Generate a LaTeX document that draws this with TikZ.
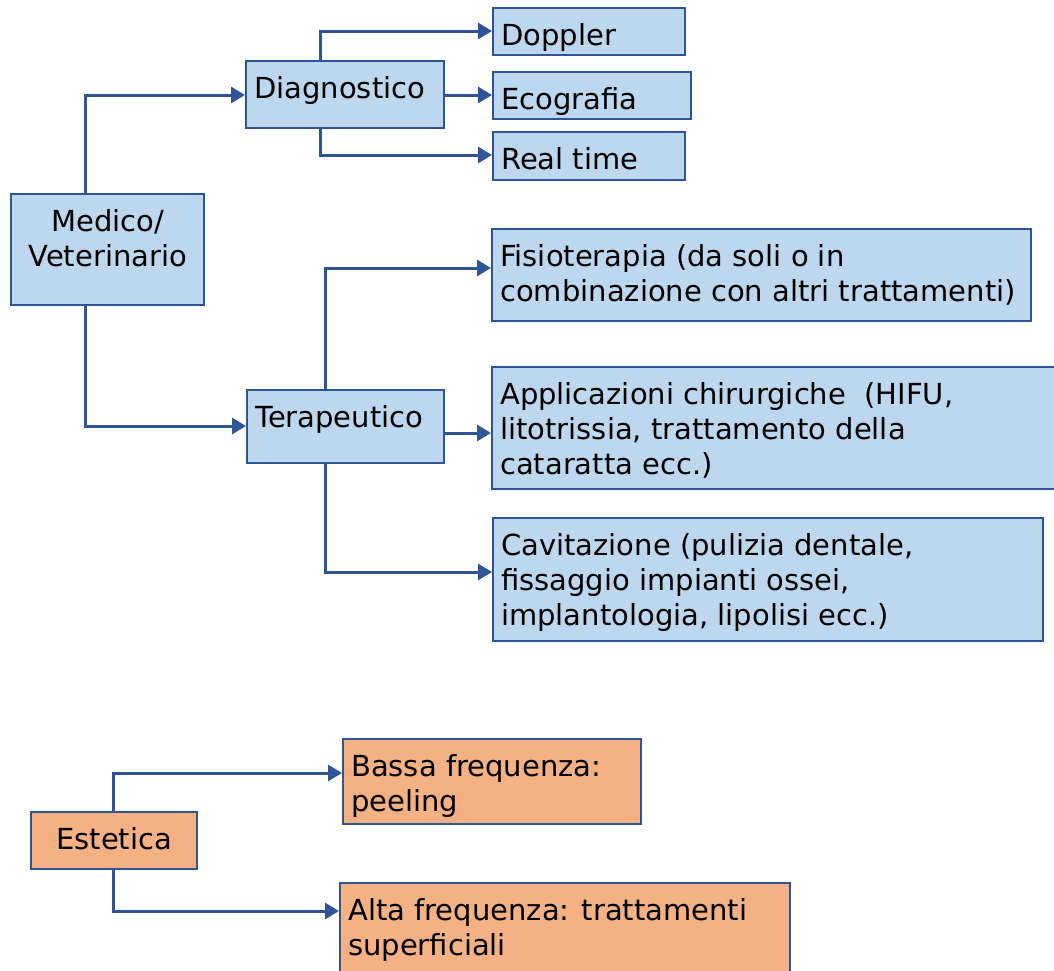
\documentclass[tikz,border=0pt]{standalone}
\usepackage{fontspec}
\setmainfont{DejaVu Sans}
\usetikzlibrary{arrows.meta,calc}
\definecolor{blu}{HTML}{BDD7EE}
\definecolor{ora}{HTML}{F4B183}
\definecolor{bd}{HTML}{2F5597}
\newcommand\bt[3]{\parbox[c][#2pt][t]{#1pt}{\leftskip=8pt\rightskip=0pt plus 1fil\rule{0pt}{37pt}\ignorespaces#3}}
\begin{document}
\begin{tikzpicture}[x=1pt,y=-1pt,
  box/.style={draw=bd, line width=2.4pt, fill=blu, inner sep=0pt, anchor=north west,
    font=\fontsize{29}{35}\selectfont},
  obox/.style={box, fill=ora},
  arr/.style={draw=bd, line width=3pt, -{Triangle[length=14pt,width=16pt]}}]
\useasboundingbox[fill=white] (0,0) rectangle (1054,970);

\node[box] (med) at (10,193) {\bt{193}{111}{\centering Medico/\\Veterinario}};
\node[box] (diag) at (245,60) {\bt{198}{67}{Diagnostico}};
\node[box] (dop) at (492,7) {\bt{192}{47}{Doppler}};
\node[box] (eco) at (492,71) {\bt{198}{47}{Ecografia}};
\node[box] (rt) at (492,131) {\bt{192}{48}{Real time}};
\node[box] (ter) at (246,389) {\bt{197}{73}{Terapeutico}};
\node[box] (fis) at (491,228) {\bt{539}{92}{Fisioterapia (da soli o in\\combinazione con altri trattamenti)}};
\node[box] (app) at (491,366) {\bt{580}{122}{Applicazioni chirurgiche\ \ (HIFU,\\litotrissia, trattamento della\\cataratta ecc.)}};
\node[box] (cav) at (492,517) {\bt{550}{123}{Cavitazione (pulizia dentale,\\fissaggio impianti ossei,\\implantologia, lipolisi ecc.)}};
\node[obox] (est) at (30,811) {\bt{166}{57}{\centering Estetica}};
\node[obox] (bas) at (342,738) {\bt{298}{85}{Bassa frequenza:\\peeling}};
\node[obox] (alt) at (339,882) {\bt{450}{100}{Alta frequenza: trattamenti\\superficiali}};

\draw[arr] ($(med.north west)+(75,0)$) |- ($(diag.north west)+(0,35)$);
\draw[arr] ($(med.south west)+(75,0)$) |- ($(ter.north west)+(0,37)$);
\draw[arr] ($(diag.north west)+(75,0)$) |- ($(dop.north west)+(0,24)$);
\draw[arr] ($(diag.north east)+(0,35)$) -- ($(eco.north west)+(0,24)$);
\draw[arr] ($(diag.south west)+(75,0)$) |- ($(rt.north west)+(0,24)$);
\draw[arr] ($(ter.north west)+(79,0)$) |- ($(fis.north west)+(0,40)$);
\draw[arr] ($(ter.north east)+(0,44)$) -- ($(app.north west)+(0,67)$);
\draw[arr] ($(ter.south west)+(79,0)$) |- ($(cav.north west)+(0,55)$);
\draw[arr] ($(est.north west)+(83,0)$) |- ($(bas.north west)+(0,35)$);
\draw[arr] ($(est.south west)+(83,0)$) |- ($(alt.north west)+(0,29)$);
\end{tikzpicture}
\end{document}
